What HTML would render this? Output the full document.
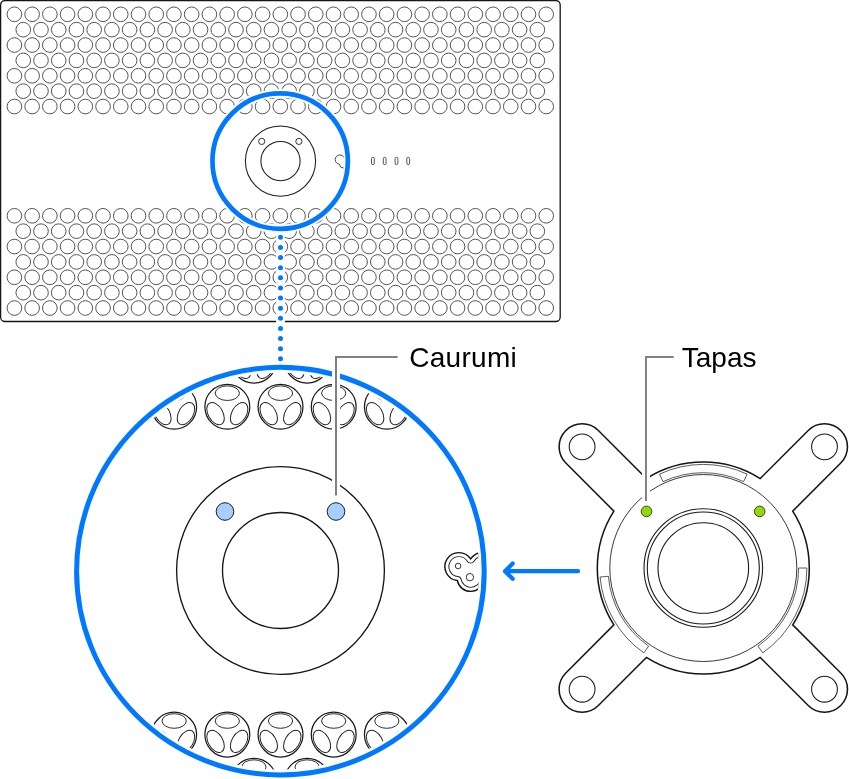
<!DOCTYPE html><html><head><meta charset="utf-8"><style>html,body{margin:0;padding:0;background:#fff;width:849px;height:779px;overflow:hidden}svg{display:block}text{font-family:"Liberation Sans",sans-serif}</style></head><body><svg width="849" height="779" viewBox="0 0 849 779"><defs><clipPath id="bclip"><circle cx="280.4" cy="571.15" r="198.5"/></clipPath><clipPath id="sclip"><circle cx="280.15" cy="161.1" r="63.95"/></clipPath><clipPath id="lkclip"><path d="M470.65 558.99 A14 14 0 1 0 457.29 580.51 A13.7 13.7 0 0 0 484.11 580.49 A14 14 0 1 0 470.65 558.99Z"/></clipPath></defs><rect x="0.6" y="0.5" width="559.6" height="321" rx="4.5" fill="#fff" stroke="#151515" stroke-width="1.3"/><g fill="none" stroke="#555" stroke-width="1"><circle cx="14.4" cy="14.3" r="7.32"/><circle cx="32.13" cy="14.3" r="7.32"/><circle cx="49.85" cy="14.3" r="7.32"/><circle cx="67.58" cy="14.3" r="7.32"/><circle cx="85.31" cy="14.3" r="7.32"/><circle cx="103.04" cy="14.3" r="7.32"/><circle cx="120.76" cy="14.3" r="7.32"/><circle cx="138.49" cy="14.3" r="7.32"/><circle cx="156.22" cy="14.3" r="7.32"/><circle cx="173.94" cy="14.3" r="7.32"/><circle cx="191.67" cy="14.3" r="7.32"/><circle cx="209.4" cy="14.3" r="7.32"/><circle cx="227.12" cy="14.3" r="7.32"/><circle cx="244.85" cy="14.3" r="7.32"/><circle cx="262.58" cy="14.3" r="7.32"/><circle cx="280.31" cy="14.3" r="7.32"/><circle cx="298.03" cy="14.3" r="7.32"/><circle cx="315.76" cy="14.3" r="7.32"/><circle cx="333.49" cy="14.3" r="7.32"/><circle cx="351.21" cy="14.3" r="7.32"/><circle cx="368.94" cy="14.3" r="7.32"/><circle cx="386.67" cy="14.3" r="7.32"/><circle cx="404.39" cy="14.3" r="7.32"/><circle cx="422.12" cy="14.3" r="7.32"/><circle cx="439.85" cy="14.3" r="7.32"/><circle cx="457.57" cy="14.3" r="7.32"/><circle cx="475.3" cy="14.3" r="7.32"/><circle cx="493.03" cy="14.3" r="7.32"/><circle cx="510.76" cy="14.3" r="7.32"/><circle cx="528.48" cy="14.3" r="7.32"/><circle cx="546.21" cy="14.3" r="7.32"/><circle cx="23.26" cy="29.67" r="7.32"/><circle cx="40.99" cy="29.67" r="7.32"/><circle cx="58.72" cy="29.67" r="7.32"/><circle cx="76.44" cy="29.67" r="7.32"/><circle cx="94.17" cy="29.67" r="7.32"/><circle cx="111.9" cy="29.67" r="7.32"/><circle cx="129.63" cy="29.67" r="7.32"/><circle cx="147.35" cy="29.67" r="7.32"/><circle cx="165.08" cy="29.67" r="7.32"/><circle cx="182.81" cy="29.67" r="7.32"/><circle cx="200.53" cy="29.67" r="7.32"/><circle cx="218.26" cy="29.67" r="7.32"/><circle cx="235.99" cy="29.67" r="7.32"/><circle cx="253.71" cy="29.67" r="7.32"/><circle cx="271.44" cy="29.67" r="7.32"/><circle cx="289.17" cy="29.67" r="7.32"/><circle cx="306.9" cy="29.67" r="7.32"/><circle cx="324.62" cy="29.67" r="7.32"/><circle cx="342.35" cy="29.67" r="7.32"/><circle cx="360.08" cy="29.67" r="7.32"/><circle cx="377.8" cy="29.67" r="7.32"/><circle cx="395.53" cy="29.67" r="7.32"/><circle cx="413.26" cy="29.67" r="7.32"/><circle cx="430.98" cy="29.67" r="7.32"/><circle cx="448.71" cy="29.67" r="7.32"/><circle cx="466.44" cy="29.67" r="7.32"/><circle cx="484.17" cy="29.67" r="7.32"/><circle cx="501.89" cy="29.67" r="7.32"/><circle cx="519.62" cy="29.67" r="7.32"/><circle cx="537.35" cy="29.67" r="7.32"/><circle cx="14.4" cy="45.04" r="7.32"/><circle cx="32.13" cy="45.04" r="7.32"/><circle cx="49.85" cy="45.04" r="7.32"/><circle cx="67.58" cy="45.04" r="7.32"/><circle cx="85.31" cy="45.04" r="7.32"/><circle cx="103.04" cy="45.04" r="7.32"/><circle cx="120.76" cy="45.04" r="7.32"/><circle cx="138.49" cy="45.04" r="7.32"/><circle cx="156.22" cy="45.04" r="7.32"/><circle cx="173.94" cy="45.04" r="7.32"/><circle cx="191.67" cy="45.04" r="7.32"/><circle cx="209.4" cy="45.04" r="7.32"/><circle cx="227.12" cy="45.04" r="7.32"/><circle cx="244.85" cy="45.04" r="7.32"/><circle cx="262.58" cy="45.04" r="7.32"/><circle cx="280.31" cy="45.04" r="7.32"/><circle cx="298.03" cy="45.04" r="7.32"/><circle cx="315.76" cy="45.04" r="7.32"/><circle cx="333.49" cy="45.04" r="7.32"/><circle cx="351.21" cy="45.04" r="7.32"/><circle cx="368.94" cy="45.04" r="7.32"/><circle cx="386.67" cy="45.04" r="7.32"/><circle cx="404.39" cy="45.04" r="7.32"/><circle cx="422.12" cy="45.04" r="7.32"/><circle cx="439.85" cy="45.04" r="7.32"/><circle cx="457.57" cy="45.04" r="7.32"/><circle cx="475.3" cy="45.04" r="7.32"/><circle cx="493.03" cy="45.04" r="7.32"/><circle cx="510.76" cy="45.04" r="7.32"/><circle cx="528.48" cy="45.04" r="7.32"/><circle cx="546.21" cy="45.04" r="7.32"/><circle cx="23.26" cy="60.41" r="7.32"/><circle cx="40.99" cy="60.41" r="7.32"/><circle cx="58.72" cy="60.41" r="7.32"/><circle cx="76.44" cy="60.41" r="7.32"/><circle cx="94.17" cy="60.41" r="7.32"/><circle cx="111.9" cy="60.41" r="7.32"/><circle cx="129.63" cy="60.41" r="7.32"/><circle cx="147.35" cy="60.41" r="7.32"/><circle cx="165.08" cy="60.41" r="7.32"/><circle cx="182.81" cy="60.41" r="7.32"/><circle cx="200.53" cy="60.41" r="7.32"/><circle cx="218.26" cy="60.41" r="7.32"/><circle cx="235.99" cy="60.41" r="7.32"/><circle cx="253.71" cy="60.41" r="7.32"/><circle cx="271.44" cy="60.41" r="7.32"/><circle cx="289.17" cy="60.41" r="7.32"/><circle cx="306.9" cy="60.41" r="7.32"/><circle cx="324.62" cy="60.41" r="7.32"/><circle cx="342.35" cy="60.41" r="7.32"/><circle cx="360.08" cy="60.41" r="7.32"/><circle cx="377.8" cy="60.41" r="7.32"/><circle cx="395.53" cy="60.41" r="7.32"/><circle cx="413.26" cy="60.41" r="7.32"/><circle cx="430.98" cy="60.41" r="7.32"/><circle cx="448.71" cy="60.41" r="7.32"/><circle cx="466.44" cy="60.41" r="7.32"/><circle cx="484.17" cy="60.41" r="7.32"/><circle cx="501.89" cy="60.41" r="7.32"/><circle cx="519.62" cy="60.41" r="7.32"/><circle cx="537.35" cy="60.41" r="7.32"/><circle cx="14.4" cy="75.78" r="7.32"/><circle cx="32.13" cy="75.78" r="7.32"/><circle cx="49.85" cy="75.78" r="7.32"/><circle cx="67.58" cy="75.78" r="7.32"/><circle cx="85.31" cy="75.78" r="7.32"/><circle cx="103.04" cy="75.78" r="7.32"/><circle cx="120.76" cy="75.78" r="7.32"/><circle cx="138.49" cy="75.78" r="7.32"/><circle cx="156.22" cy="75.78" r="7.32"/><circle cx="173.94" cy="75.78" r="7.32"/><circle cx="191.67" cy="75.78" r="7.32"/><circle cx="209.4" cy="75.78" r="7.32"/><circle cx="227.12" cy="75.78" r="7.32"/><circle cx="244.85" cy="75.78" r="7.32"/><circle cx="262.58" cy="75.78" r="7.32"/><circle cx="280.31" cy="75.78" r="7.32"/><circle cx="298.03" cy="75.78" r="7.32"/><circle cx="315.76" cy="75.78" r="7.32"/><circle cx="333.49" cy="75.78" r="7.32"/><circle cx="351.21" cy="75.78" r="7.32"/><circle cx="368.94" cy="75.78" r="7.32"/><circle cx="386.67" cy="75.78" r="7.32"/><circle cx="404.39" cy="75.78" r="7.32"/><circle cx="422.12" cy="75.78" r="7.32"/><circle cx="439.85" cy="75.78" r="7.32"/><circle cx="457.57" cy="75.78" r="7.32"/><circle cx="475.3" cy="75.78" r="7.32"/><circle cx="493.03" cy="75.78" r="7.32"/><circle cx="510.76" cy="75.78" r="7.32"/><circle cx="528.48" cy="75.78" r="7.32"/><circle cx="546.21" cy="75.78" r="7.32"/><circle cx="23.26" cy="91.15" r="7.32"/><circle cx="40.99" cy="91.15" r="7.32"/><circle cx="58.72" cy="91.15" r="7.32"/><circle cx="76.44" cy="91.15" r="7.32"/><circle cx="94.17" cy="91.15" r="7.32"/><circle cx="111.9" cy="91.15" r="7.32"/><circle cx="129.63" cy="91.15" r="7.32"/><circle cx="147.35" cy="91.15" r="7.32"/><circle cx="165.08" cy="91.15" r="7.32"/><circle cx="182.81" cy="91.15" r="7.32"/><circle cx="200.53" cy="91.15" r="7.32"/><circle cx="218.26" cy="91.15" r="7.32"/><circle cx="235.99" cy="91.15" r="7.32"/><circle cx="253.71" cy="91.15" r="7.32"/><circle cx="271.44" cy="91.15" r="7.32"/><circle cx="289.17" cy="91.15" r="7.32"/><circle cx="306.9" cy="91.15" r="7.32"/><circle cx="324.62" cy="91.15" r="7.32"/><circle cx="342.35" cy="91.15" r="7.32"/><circle cx="360.08" cy="91.15" r="7.32"/><circle cx="377.8" cy="91.15" r="7.32"/><circle cx="395.53" cy="91.15" r="7.32"/><circle cx="413.26" cy="91.15" r="7.32"/><circle cx="430.98" cy="91.15" r="7.32"/><circle cx="448.71" cy="91.15" r="7.32"/><circle cx="466.44" cy="91.15" r="7.32"/><circle cx="484.17" cy="91.15" r="7.32"/><circle cx="501.89" cy="91.15" r="7.32"/><circle cx="519.62" cy="91.15" r="7.32"/><circle cx="537.35" cy="91.15" r="7.32"/><circle cx="14.4" cy="106.52" r="7.32"/><circle cx="32.13" cy="106.52" r="7.32"/><circle cx="49.85" cy="106.52" r="7.32"/><circle cx="67.58" cy="106.52" r="7.32"/><circle cx="85.31" cy="106.52" r="7.32"/><circle cx="103.04" cy="106.52" r="7.32"/><circle cx="120.76" cy="106.52" r="7.32"/><circle cx="138.49" cy="106.52" r="7.32"/><circle cx="156.22" cy="106.52" r="7.32"/><circle cx="173.94" cy="106.52" r="7.32"/><circle cx="191.67" cy="106.52" r="7.32"/><circle cx="209.4" cy="106.52" r="7.32"/><circle cx="227.12" cy="106.52" r="7.32"/><circle cx="244.85" cy="106.52" r="7.32"/><circle cx="262.58" cy="106.52" r="7.32"/><circle cx="280.31" cy="106.52" r="7.32"/><circle cx="298.03" cy="106.52" r="7.32"/><circle cx="315.76" cy="106.52" r="7.32"/><circle cx="333.49" cy="106.52" r="7.32"/><circle cx="351.21" cy="106.52" r="7.32"/><circle cx="368.94" cy="106.52" r="7.32"/><circle cx="386.67" cy="106.52" r="7.32"/><circle cx="404.39" cy="106.52" r="7.32"/><circle cx="422.12" cy="106.52" r="7.32"/><circle cx="439.85" cy="106.52" r="7.32"/><circle cx="457.57" cy="106.52" r="7.32"/><circle cx="475.3" cy="106.52" r="7.32"/><circle cx="493.03" cy="106.52" r="7.32"/><circle cx="510.76" cy="106.52" r="7.32"/><circle cx="528.48" cy="106.52" r="7.32"/><circle cx="546.21" cy="106.52" r="7.32"/><circle cx="14.4" cy="215.8" r="7.32"/><circle cx="32.13" cy="215.8" r="7.32"/><circle cx="49.85" cy="215.8" r="7.32"/><circle cx="67.58" cy="215.8" r="7.32"/><circle cx="85.31" cy="215.8" r="7.32"/><circle cx="103.04" cy="215.8" r="7.32"/><circle cx="120.76" cy="215.8" r="7.32"/><circle cx="138.49" cy="215.8" r="7.32"/><circle cx="156.22" cy="215.8" r="7.32"/><circle cx="173.94" cy="215.8" r="7.32"/><circle cx="191.67" cy="215.8" r="7.32"/><circle cx="209.4" cy="215.8" r="7.32"/><circle cx="227.12" cy="215.8" r="7.32"/><circle cx="244.85" cy="215.8" r="7.32"/><circle cx="262.58" cy="215.8" r="7.32"/><circle cx="280.31" cy="215.8" r="7.32"/><circle cx="298.03" cy="215.8" r="7.32"/><circle cx="315.76" cy="215.8" r="7.32"/><circle cx="333.49" cy="215.8" r="7.32"/><circle cx="351.21" cy="215.8" r="7.32"/><circle cx="368.94" cy="215.8" r="7.32"/><circle cx="386.67" cy="215.8" r="7.32"/><circle cx="404.39" cy="215.8" r="7.32"/><circle cx="422.12" cy="215.8" r="7.32"/><circle cx="439.85" cy="215.8" r="7.32"/><circle cx="457.57" cy="215.8" r="7.32"/><circle cx="475.3" cy="215.8" r="7.32"/><circle cx="493.03" cy="215.8" r="7.32"/><circle cx="510.76" cy="215.8" r="7.32"/><circle cx="528.48" cy="215.8" r="7.32"/><circle cx="546.21" cy="215.8" r="7.32"/><circle cx="23.26" cy="231.17" r="7.32"/><circle cx="40.99" cy="231.17" r="7.32"/><circle cx="58.72" cy="231.17" r="7.32"/><circle cx="76.44" cy="231.17" r="7.32"/><circle cx="94.17" cy="231.17" r="7.32"/><circle cx="111.9" cy="231.17" r="7.32"/><circle cx="129.63" cy="231.17" r="7.32"/><circle cx="147.35" cy="231.17" r="7.32"/><circle cx="165.08" cy="231.17" r="7.32"/><circle cx="182.81" cy="231.17" r="7.32"/><circle cx="200.53" cy="231.17" r="7.32"/><circle cx="218.26" cy="231.17" r="7.32"/><circle cx="235.99" cy="231.17" r="7.32"/><circle cx="253.71" cy="231.17" r="7.32"/><circle cx="271.44" cy="231.17" r="7.32"/><circle cx="289.17" cy="231.17" r="7.32"/><circle cx="306.9" cy="231.17" r="7.32"/><circle cx="324.62" cy="231.17" r="7.32"/><circle cx="342.35" cy="231.17" r="7.32"/><circle cx="360.08" cy="231.17" r="7.32"/><circle cx="377.8" cy="231.17" r="7.32"/><circle cx="395.53" cy="231.17" r="7.32"/><circle cx="413.26" cy="231.17" r="7.32"/><circle cx="430.98" cy="231.17" r="7.32"/><circle cx="448.71" cy="231.17" r="7.32"/><circle cx="466.44" cy="231.17" r="7.32"/><circle cx="484.17" cy="231.17" r="7.32"/><circle cx="501.89" cy="231.17" r="7.32"/><circle cx="519.62" cy="231.17" r="7.32"/><circle cx="537.35" cy="231.17" r="7.32"/><circle cx="14.4" cy="246.54" r="7.32"/><circle cx="32.13" cy="246.54" r="7.32"/><circle cx="49.85" cy="246.54" r="7.32"/><circle cx="67.58" cy="246.54" r="7.32"/><circle cx="85.31" cy="246.54" r="7.32"/><circle cx="103.04" cy="246.54" r="7.32"/><circle cx="120.76" cy="246.54" r="7.32"/><circle cx="138.49" cy="246.54" r="7.32"/><circle cx="156.22" cy="246.54" r="7.32"/><circle cx="173.94" cy="246.54" r="7.32"/><circle cx="191.67" cy="246.54" r="7.32"/><circle cx="209.4" cy="246.54" r="7.32"/><circle cx="227.12" cy="246.54" r="7.32"/><circle cx="244.85" cy="246.54" r="7.32"/><circle cx="262.58" cy="246.54" r="7.32"/><circle cx="280.31" cy="246.54" r="7.32"/><circle cx="298.03" cy="246.54" r="7.32"/><circle cx="315.76" cy="246.54" r="7.32"/><circle cx="333.49" cy="246.54" r="7.32"/><circle cx="351.21" cy="246.54" r="7.32"/><circle cx="368.94" cy="246.54" r="7.32"/><circle cx="386.67" cy="246.54" r="7.32"/><circle cx="404.39" cy="246.54" r="7.32"/><circle cx="422.12" cy="246.54" r="7.32"/><circle cx="439.85" cy="246.54" r="7.32"/><circle cx="457.57" cy="246.54" r="7.32"/><circle cx="475.3" cy="246.54" r="7.32"/><circle cx="493.03" cy="246.54" r="7.32"/><circle cx="510.76" cy="246.54" r="7.32"/><circle cx="528.48" cy="246.54" r="7.32"/><circle cx="546.21" cy="246.54" r="7.32"/><circle cx="23.26" cy="261.91" r="7.32"/><circle cx="40.99" cy="261.91" r="7.32"/><circle cx="58.72" cy="261.91" r="7.32"/><circle cx="76.44" cy="261.91" r="7.32"/><circle cx="94.17" cy="261.91" r="7.32"/><circle cx="111.9" cy="261.91" r="7.32"/><circle cx="129.63" cy="261.91" r="7.32"/><circle cx="147.35" cy="261.91" r="7.32"/><circle cx="165.08" cy="261.91" r="7.32"/><circle cx="182.81" cy="261.91" r="7.32"/><circle cx="200.53" cy="261.91" r="7.32"/><circle cx="218.26" cy="261.91" r="7.32"/><circle cx="235.99" cy="261.91" r="7.32"/><circle cx="253.71" cy="261.91" r="7.32"/><circle cx="271.44" cy="261.91" r="7.32"/><circle cx="289.17" cy="261.91" r="7.32"/><circle cx="306.9" cy="261.91" r="7.32"/><circle cx="324.62" cy="261.91" r="7.32"/><circle cx="342.35" cy="261.91" r="7.32"/><circle cx="360.08" cy="261.91" r="7.32"/><circle cx="377.8" cy="261.91" r="7.32"/><circle cx="395.53" cy="261.91" r="7.32"/><circle cx="413.26" cy="261.91" r="7.32"/><circle cx="430.98" cy="261.91" r="7.32"/><circle cx="448.71" cy="261.91" r="7.32"/><circle cx="466.44" cy="261.91" r="7.32"/><circle cx="484.17" cy="261.91" r="7.32"/><circle cx="501.89" cy="261.91" r="7.32"/><circle cx="519.62" cy="261.91" r="7.32"/><circle cx="537.35" cy="261.91" r="7.32"/><circle cx="14.4" cy="277.28" r="7.32"/><circle cx="32.13" cy="277.28" r="7.32"/><circle cx="49.85" cy="277.28" r="7.32"/><circle cx="67.58" cy="277.28" r="7.32"/><circle cx="85.31" cy="277.28" r="7.32"/><circle cx="103.04" cy="277.28" r="7.32"/><circle cx="120.76" cy="277.28" r="7.32"/><circle cx="138.49" cy="277.28" r="7.32"/><circle cx="156.22" cy="277.28" r="7.32"/><circle cx="173.94" cy="277.28" r="7.32"/><circle cx="191.67" cy="277.28" r="7.32"/><circle cx="209.4" cy="277.28" r="7.32"/><circle cx="227.12" cy="277.28" r="7.32"/><circle cx="244.85" cy="277.28" r="7.32"/><circle cx="262.58" cy="277.28" r="7.32"/><circle cx="280.31" cy="277.28" r="7.32"/><circle cx="298.03" cy="277.28" r="7.32"/><circle cx="315.76" cy="277.28" r="7.32"/><circle cx="333.49" cy="277.28" r="7.32"/><circle cx="351.21" cy="277.28" r="7.32"/><circle cx="368.94" cy="277.28" r="7.32"/><circle cx="386.67" cy="277.28" r="7.32"/><circle cx="404.39" cy="277.28" r="7.32"/><circle cx="422.12" cy="277.28" r="7.32"/><circle cx="439.85" cy="277.28" r="7.32"/><circle cx="457.57" cy="277.28" r="7.32"/><circle cx="475.3" cy="277.28" r="7.32"/><circle cx="493.03" cy="277.28" r="7.32"/><circle cx="510.76" cy="277.28" r="7.32"/><circle cx="528.48" cy="277.28" r="7.32"/><circle cx="546.21" cy="277.28" r="7.32"/><circle cx="23.26" cy="292.65" r="7.32"/><circle cx="40.99" cy="292.65" r="7.32"/><circle cx="58.72" cy="292.65" r="7.32"/><circle cx="76.44" cy="292.65" r="7.32"/><circle cx="94.17" cy="292.65" r="7.32"/><circle cx="111.9" cy="292.65" r="7.32"/><circle cx="129.63" cy="292.65" r="7.32"/><circle cx="147.35" cy="292.65" r="7.32"/><circle cx="165.08" cy="292.65" r="7.32"/><circle cx="182.81" cy="292.65" r="7.32"/><circle cx="200.53" cy="292.65" r="7.32"/><circle cx="218.26" cy="292.65" r="7.32"/><circle cx="235.99" cy="292.65" r="7.32"/><circle cx="253.71" cy="292.65" r="7.32"/><circle cx="271.44" cy="292.65" r="7.32"/><circle cx="289.17" cy="292.65" r="7.32"/><circle cx="306.9" cy="292.65" r="7.32"/><circle cx="324.62" cy="292.65" r="7.32"/><circle cx="342.35" cy="292.65" r="7.32"/><circle cx="360.08" cy="292.65" r="7.32"/><circle cx="377.8" cy="292.65" r="7.32"/><circle cx="395.53" cy="292.65" r="7.32"/><circle cx="413.26" cy="292.65" r="7.32"/><circle cx="430.98" cy="292.65" r="7.32"/><circle cx="448.71" cy="292.65" r="7.32"/><circle cx="466.44" cy="292.65" r="7.32"/><circle cx="484.17" cy="292.65" r="7.32"/><circle cx="501.89" cy="292.65" r="7.32"/><circle cx="519.62" cy="292.65" r="7.32"/><circle cx="537.35" cy="292.65" r="7.32"/><circle cx="14.4" cy="308.02" r="7.32"/><circle cx="32.13" cy="308.02" r="7.32"/><circle cx="49.85" cy="308.02" r="7.32"/><circle cx="67.58" cy="308.02" r="7.32"/><circle cx="85.31" cy="308.02" r="7.32"/><circle cx="103.04" cy="308.02" r="7.32"/><circle cx="120.76" cy="308.02" r="7.32"/><circle cx="138.49" cy="308.02" r="7.32"/><circle cx="156.22" cy="308.02" r="7.32"/><circle cx="173.94" cy="308.02" r="7.32"/><circle cx="191.67" cy="308.02" r="7.32"/><circle cx="209.4" cy="308.02" r="7.32"/><circle cx="227.12" cy="308.02" r="7.32"/><circle cx="244.85" cy="308.02" r="7.32"/><circle cx="262.58" cy="308.02" r="7.32"/><circle cx="280.31" cy="308.02" r="7.32"/><circle cx="298.03" cy="308.02" r="7.32"/><circle cx="315.76" cy="308.02" r="7.32"/><circle cx="333.49" cy="308.02" r="7.32"/><circle cx="351.21" cy="308.02" r="7.32"/><circle cx="368.94" cy="308.02" r="7.32"/><circle cx="386.67" cy="308.02" r="7.32"/><circle cx="404.39" cy="308.02" r="7.32"/><circle cx="422.12" cy="308.02" r="7.32"/><circle cx="439.85" cy="308.02" r="7.32"/><circle cx="457.57" cy="308.02" r="7.32"/><circle cx="475.3" cy="308.02" r="7.32"/><circle cx="493.03" cy="308.02" r="7.32"/><circle cx="510.76" cy="308.02" r="7.32"/><circle cx="528.48" cy="308.02" r="7.32"/><circle cx="546.21" cy="308.02" r="7.32"/></g><path d="M280.5 228V366" stroke="#fff" stroke-width="8.7"/><circle cx="280.15" cy="161.1" r="67.7" fill="none" stroke="#fff" stroke-width="8.7"/><g fill="none" stroke="#1c1c1c" stroke-width="1.05"><circle cx="280.5" cy="161.1" r="35.1"/><circle cx="280.5" cy="161.1" r="19.6"/><circle cx="261.7" cy="141.4" r="3.1" stroke-width="0.9"/><circle cx="298.9" cy="141.4" r="3.1" stroke-width="0.9"/></g><path clip-path="url(#sclip)" d="M343.75 157.06 A4.67 4.67 0 1 0 339.32 164.24 A4.57 4.57 0 0 0 348.35 164.22 A4.67 4.67 0 1 0 343.75 157.06Z" fill="none" stroke="#333" stroke-width="0.9"/><circle cx="280.15" cy="161.1" r="67.7" fill="none" stroke="#0079ff" stroke-width="4.7"/><g fill="none" stroke="#444" stroke-width="0.9"><rect x="371.5" y="157.3" width="2.8" height="7.3" rx="1.4"/><rect x="383.3" y="157.3" width="2.8" height="7.3" rx="1.4"/><rect x="395.1" y="157.3" width="2.8" height="7.3" rx="1.4"/><rect x="406.8" y="157.3" width="2.8" height="7.3" rx="1.4"/></g><g fill="#0079ff"><circle cx="280.5" cy="237.3" r="2.5"/><circle cx="280.5" cy="247.43" r="2.5"/><circle cx="280.5" cy="257.56" r="2.5"/><circle cx="280.5" cy="267.69" r="2.5"/><circle cx="280.5" cy="277.82" r="2.5"/><circle cx="280.5" cy="287.95" r="2.5"/><circle cx="280.5" cy="298.08" r="2.5"/><circle cx="280.5" cy="308.21" r="2.5"/><circle cx="280.5" cy="318.34" r="2.5"/><circle cx="280.5" cy="328.47" r="2.5"/><circle cx="280.5" cy="338.6" r="2.5"/><circle cx="280.5" cy="348.73" r="2.5"/><circle cx="280.5" cy="358.86" r="2.5"/></g><g clip-path="url(#bclip)"><g transform="translate(41.2 360.65)"><circle r="22.45" fill="#fff" stroke="#1a1a1a" stroke-width="1.25"/><g fill="none" stroke="#222" stroke-width="0.95"><ellipse cy="-13.6" rx="12.1" ry="7.3"/><ellipse cy="-13.6" rx="12.1" ry="7.3" transform="rotate(120)"/><ellipse cy="-13.6" rx="12.1" ry="7.3" transform="rotate(240)"/></g></g><g transform="translate(94.38 360.65)"><circle r="22.45" fill="#fff" stroke="#1a1a1a" stroke-width="1.25"/><g fill="none" stroke="#222" stroke-width="0.95"><ellipse cy="-13.6" rx="12.1" ry="7.3"/><ellipse cy="-13.6" rx="12.1" ry="7.3" transform="rotate(120)"/><ellipse cy="-13.6" rx="12.1" ry="7.3" transform="rotate(240)"/></g></g><g transform="translate(147.56 360.65)"><circle r="22.45" fill="#fff" stroke="#1a1a1a" stroke-width="1.25"/><g fill="none" stroke="#222" stroke-width="0.95"><ellipse cy="-13.6" rx="12.1" ry="7.3"/><ellipse cy="-13.6" rx="12.1" ry="7.3" transform="rotate(120)"/><ellipse cy="-13.6" rx="12.1" ry="7.3" transform="rotate(240)"/></g></g><g transform="translate(200.74 360.65)"><circle r="22.45" fill="#fff" stroke="#1a1a1a" stroke-width="1.25"/><g fill="none" stroke="#222" stroke-width="0.95"><ellipse cy="-13.6" rx="12.1" ry="7.3"/><ellipse cy="-13.6" rx="12.1" ry="7.3" transform="rotate(120)"/><ellipse cy="-13.6" rx="12.1" ry="7.3" transform="rotate(240)"/></g></g><g transform="translate(253.92 360.65)"><circle r="22.45" fill="#fff" stroke="#1a1a1a" stroke-width="1.25"/><g fill="none" stroke="#222" stroke-width="0.95"><ellipse cy="-13.6" rx="12.1" ry="7.3"/><ellipse cy="-13.6" rx="12.1" ry="7.3" transform="rotate(120)"/><ellipse cy="-13.6" rx="12.1" ry="7.3" transform="rotate(240)"/></g></g><g transform="translate(307.11 360.65)"><circle r="22.45" fill="#fff" stroke="#1a1a1a" stroke-width="1.25"/><g fill="none" stroke="#222" stroke-width="0.95"><ellipse cy="-13.6" rx="12.1" ry="7.3"/><ellipse cy="-13.6" rx="12.1" ry="7.3" transform="rotate(120)"/><ellipse cy="-13.6" rx="12.1" ry="7.3" transform="rotate(240)"/></g></g><g transform="translate(360.29 360.65)"><circle r="22.45" fill="#fff" stroke="#1a1a1a" stroke-width="1.25"/><g fill="none" stroke="#222" stroke-width="0.95"><ellipse cy="-13.6" rx="12.1" ry="7.3"/><ellipse cy="-13.6" rx="12.1" ry="7.3" transform="rotate(120)"/><ellipse cy="-13.6" rx="12.1" ry="7.3" transform="rotate(240)"/></g></g><g transform="translate(413.47 360.65)"><circle r="22.45" fill="#fff" stroke="#1a1a1a" stroke-width="1.25"/><g fill="none" stroke="#222" stroke-width="0.95"><ellipse cy="-13.6" rx="12.1" ry="7.3"/><ellipse cy="-13.6" rx="12.1" ry="7.3" transform="rotate(120)"/><ellipse cy="-13.6" rx="12.1" ry="7.3" transform="rotate(240)"/></g></g><g transform="translate(466.65 360.65)"><circle r="22.45" fill="#fff" stroke="#1a1a1a" stroke-width="1.25"/><g fill="none" stroke="#222" stroke-width="0.95"><ellipse cy="-13.6" rx="12.1" ry="7.3"/><ellipse cy="-13.6" rx="12.1" ry="7.3" transform="rotate(120)"/><ellipse cy="-13.6" rx="12.1" ry="7.3" transform="rotate(240)"/></g></g><g transform="translate(519.83 360.65)"><circle r="22.45" fill="#fff" stroke="#1a1a1a" stroke-width="1.25"/><g fill="none" stroke="#222" stroke-width="0.95"><ellipse cy="-13.6" rx="12.1" ry="7.3"/><ellipse cy="-13.6" rx="12.1" ry="7.3" transform="rotate(120)"/><ellipse cy="-13.6" rx="12.1" ry="7.3" transform="rotate(240)"/></g></g><g transform="translate(67.79 406.76)"><circle r="22.45" fill="#fff" stroke="#1a1a1a" stroke-width="1.25"/><g fill="none" stroke="#222" stroke-width="0.95"><ellipse cy="-13.6" rx="12.1" ry="7.3"/><ellipse cy="-13.6" rx="12.1" ry="7.3" transform="rotate(120)"/><ellipse cy="-13.6" rx="12.1" ry="7.3" transform="rotate(240)"/></g></g><g transform="translate(120.97 406.76)"><circle r="22.45" fill="#fff" stroke="#1a1a1a" stroke-width="1.25"/><g fill="none" stroke="#222" stroke-width="0.95"><ellipse cy="-13.6" rx="12.1" ry="7.3"/><ellipse cy="-13.6" rx="12.1" ry="7.3" transform="rotate(120)"/><ellipse cy="-13.6" rx="12.1" ry="7.3" transform="rotate(240)"/></g></g><g transform="translate(174.15 406.76)"><circle r="22.45" fill="#fff" stroke="#1a1a1a" stroke-width="1.25"/><g fill="none" stroke="#222" stroke-width="0.95"><ellipse cy="-13.6" rx="12.1" ry="7.3"/><ellipse cy="-13.6" rx="12.1" ry="7.3" transform="rotate(120)"/><ellipse cy="-13.6" rx="12.1" ry="7.3" transform="rotate(240)"/></g></g><g transform="translate(227.33 406.76)"><circle r="22.45" fill="#fff" stroke="#1a1a1a" stroke-width="1.25"/><g fill="none" stroke="#222" stroke-width="0.95"><ellipse cy="-13.6" rx="12.1" ry="7.3"/><ellipse cy="-13.6" rx="12.1" ry="7.3" transform="rotate(120)"/><ellipse cy="-13.6" rx="12.1" ry="7.3" transform="rotate(240)"/></g></g><g transform="translate(280.51 406.76)"><circle r="22.45" fill="#fff" stroke="#1a1a1a" stroke-width="1.25"/><g fill="none" stroke="#222" stroke-width="0.95"><ellipse cy="-13.6" rx="12.1" ry="7.3"/><ellipse cy="-13.6" rx="12.1" ry="7.3" transform="rotate(120)"/><ellipse cy="-13.6" rx="12.1" ry="7.3" transform="rotate(240)"/></g></g><g transform="translate(333.7 406.76)"><circle r="22.45" fill="#fff" stroke="#1a1a1a" stroke-width="1.25"/><g fill="none" stroke="#222" stroke-width="0.95"><ellipse cy="-13.6" rx="12.1" ry="7.3"/><ellipse cy="-13.6" rx="12.1" ry="7.3" transform="rotate(120)"/><ellipse cy="-13.6" rx="12.1" ry="7.3" transform="rotate(240)"/></g></g><g transform="translate(386.88 406.76)"><circle r="22.45" fill="#fff" stroke="#1a1a1a" stroke-width="1.25"/><g fill="none" stroke="#222" stroke-width="0.95"><ellipse cy="-13.6" rx="12.1" ry="7.3"/><ellipse cy="-13.6" rx="12.1" ry="7.3" transform="rotate(120)"/><ellipse cy="-13.6" rx="12.1" ry="7.3" transform="rotate(240)"/></g></g><g transform="translate(440.06 406.76)"><circle r="22.45" fill="#fff" stroke="#1a1a1a" stroke-width="1.25"/><g fill="none" stroke="#222" stroke-width="0.95"><ellipse cy="-13.6" rx="12.1" ry="7.3"/><ellipse cy="-13.6" rx="12.1" ry="7.3" transform="rotate(120)"/><ellipse cy="-13.6" rx="12.1" ry="7.3" transform="rotate(240)"/></g></g><g transform="translate(493.24 406.76)"><circle r="22.45" fill="#fff" stroke="#1a1a1a" stroke-width="1.25"/><g fill="none" stroke="#222" stroke-width="0.95"><ellipse cy="-13.6" rx="12.1" ry="7.3"/><ellipse cy="-13.6" rx="12.1" ry="7.3" transform="rotate(120)"/><ellipse cy="-13.6" rx="12.1" ry="7.3" transform="rotate(240)"/></g></g><g transform="translate(67.79 734.6)"><circle r="22.45" fill="#fff" stroke="#1a1a1a" stroke-width="1.25"/><g fill="none" stroke="#222" stroke-width="0.95"><ellipse cy="-13.6" rx="12.1" ry="7.3"/><ellipse cy="-13.6" rx="12.1" ry="7.3" transform="rotate(120)"/><ellipse cy="-13.6" rx="12.1" ry="7.3" transform="rotate(240)"/></g></g><g transform="translate(120.97 734.6)"><circle r="22.45" fill="#fff" stroke="#1a1a1a" stroke-width="1.25"/><g fill="none" stroke="#222" stroke-width="0.95"><ellipse cy="-13.6" rx="12.1" ry="7.3"/><ellipse cy="-13.6" rx="12.1" ry="7.3" transform="rotate(120)"/><ellipse cy="-13.6" rx="12.1" ry="7.3" transform="rotate(240)"/></g></g><g transform="translate(174.15 734.6)"><circle r="22.45" fill="#fff" stroke="#1a1a1a" stroke-width="1.25"/><g fill="none" stroke="#222" stroke-width="0.95"><ellipse cy="-13.6" rx="12.1" ry="7.3"/><ellipse cy="-13.6" rx="12.1" ry="7.3" transform="rotate(120)"/><ellipse cy="-13.6" rx="12.1" ry="7.3" transform="rotate(240)"/></g></g><g transform="translate(227.33 734.6)"><circle r="22.45" fill="#fff" stroke="#1a1a1a" stroke-width="1.25"/><g fill="none" stroke="#222" stroke-width="0.95"><ellipse cy="-13.6" rx="12.1" ry="7.3"/><ellipse cy="-13.6" rx="12.1" ry="7.3" transform="rotate(120)"/><ellipse cy="-13.6" rx="12.1" ry="7.3" transform="rotate(240)"/></g></g><g transform="translate(280.51 734.6)"><circle r="22.45" fill="#fff" stroke="#1a1a1a" stroke-width="1.25"/><g fill="none" stroke="#222" stroke-width="0.95"><ellipse cy="-13.6" rx="12.1" ry="7.3"/><ellipse cy="-13.6" rx="12.1" ry="7.3" transform="rotate(120)"/><ellipse cy="-13.6" rx="12.1" ry="7.3" transform="rotate(240)"/></g></g><g transform="translate(333.7 734.6)"><circle r="22.45" fill="#fff" stroke="#1a1a1a" stroke-width="1.25"/><g fill="none" stroke="#222" stroke-width="0.95"><ellipse cy="-13.6" rx="12.1" ry="7.3"/><ellipse cy="-13.6" rx="12.1" ry="7.3" transform="rotate(120)"/><ellipse cy="-13.6" rx="12.1" ry="7.3" transform="rotate(240)"/></g></g><g transform="translate(386.88 734.6)"><circle r="22.45" fill="#fff" stroke="#1a1a1a" stroke-width="1.25"/><g fill="none" stroke="#222" stroke-width="0.95"><ellipse cy="-13.6" rx="12.1" ry="7.3"/><ellipse cy="-13.6" rx="12.1" ry="7.3" transform="rotate(120)"/><ellipse cy="-13.6" rx="12.1" ry="7.3" transform="rotate(240)"/></g></g><g transform="translate(440.06 734.6)"><circle r="22.45" fill="#fff" stroke="#1a1a1a" stroke-width="1.25"/><g fill="none" stroke="#222" stroke-width="0.95"><ellipse cy="-13.6" rx="12.1" ry="7.3"/><ellipse cy="-13.6" rx="12.1" ry="7.3" transform="rotate(120)"/><ellipse cy="-13.6" rx="12.1" ry="7.3" transform="rotate(240)"/></g></g><g transform="translate(493.24 734.6)"><circle r="22.45" fill="#fff" stroke="#1a1a1a" stroke-width="1.25"/><g fill="none" stroke="#222" stroke-width="0.95"><ellipse cy="-13.6" rx="12.1" ry="7.3"/><ellipse cy="-13.6" rx="12.1" ry="7.3" transform="rotate(120)"/><ellipse cy="-13.6" rx="12.1" ry="7.3" transform="rotate(240)"/></g></g><g transform="translate(41.2 780.71)"><circle r="22.45" fill="#fff" stroke="#1a1a1a" stroke-width="1.25"/><g fill="none" stroke="#222" stroke-width="0.95"><ellipse cy="-13.6" rx="12.1" ry="7.3"/><ellipse cy="-13.6" rx="12.1" ry="7.3" transform="rotate(120)"/><ellipse cy="-13.6" rx="12.1" ry="7.3" transform="rotate(240)"/></g></g><g transform="translate(94.38 780.71)"><circle r="22.45" fill="#fff" stroke="#1a1a1a" stroke-width="1.25"/><g fill="none" stroke="#222" stroke-width="0.95"><ellipse cy="-13.6" rx="12.1" ry="7.3"/><ellipse cy="-13.6" rx="12.1" ry="7.3" transform="rotate(120)"/><ellipse cy="-13.6" rx="12.1" ry="7.3" transform="rotate(240)"/></g></g><g transform="translate(147.56 780.71)"><circle r="22.45" fill="#fff" stroke="#1a1a1a" stroke-width="1.25"/><g fill="none" stroke="#222" stroke-width="0.95"><ellipse cy="-13.6" rx="12.1" ry="7.3"/><ellipse cy="-13.6" rx="12.1" ry="7.3" transform="rotate(120)"/><ellipse cy="-13.6" rx="12.1" ry="7.3" transform="rotate(240)"/></g></g><g transform="translate(200.74 780.71)"><circle r="22.45" fill="#fff" stroke="#1a1a1a" stroke-width="1.25"/><g fill="none" stroke="#222" stroke-width="0.95"><ellipse cy="-13.6" rx="12.1" ry="7.3"/><ellipse cy="-13.6" rx="12.1" ry="7.3" transform="rotate(120)"/><ellipse cy="-13.6" rx="12.1" ry="7.3" transform="rotate(240)"/></g></g><g transform="translate(253.92 780.71)"><circle r="22.45" fill="#fff" stroke="#1a1a1a" stroke-width="1.25"/><g fill="none" stroke="#222" stroke-width="0.95"><ellipse cy="-13.6" rx="12.1" ry="7.3"/><ellipse cy="-13.6" rx="12.1" ry="7.3" transform="rotate(120)"/><ellipse cy="-13.6" rx="12.1" ry="7.3" transform="rotate(240)"/></g></g><g transform="translate(307.11 780.71)"><circle r="22.45" fill="#fff" stroke="#1a1a1a" stroke-width="1.25"/><g fill="none" stroke="#222" stroke-width="0.95"><ellipse cy="-13.6" rx="12.1" ry="7.3"/><ellipse cy="-13.6" rx="12.1" ry="7.3" transform="rotate(120)"/><ellipse cy="-13.6" rx="12.1" ry="7.3" transform="rotate(240)"/></g></g><g transform="translate(360.29 780.71)"><circle r="22.45" fill="#fff" stroke="#1a1a1a" stroke-width="1.25"/><g fill="none" stroke="#222" stroke-width="0.95"><ellipse cy="-13.6" rx="12.1" ry="7.3"/><ellipse cy="-13.6" rx="12.1" ry="7.3" transform="rotate(120)"/><ellipse cy="-13.6" rx="12.1" ry="7.3" transform="rotate(240)"/></g></g><g transform="translate(413.47 780.71)"><circle r="22.45" fill="#fff" stroke="#1a1a1a" stroke-width="1.25"/><g fill="none" stroke="#222" stroke-width="0.95"><ellipse cy="-13.6" rx="12.1" ry="7.3"/><ellipse cy="-13.6" rx="12.1" ry="7.3" transform="rotate(120)"/><ellipse cy="-13.6" rx="12.1" ry="7.3" transform="rotate(240)"/></g></g><g transform="translate(466.65 780.71)"><circle r="22.45" fill="#fff" stroke="#1a1a1a" stroke-width="1.25"/><g fill="none" stroke="#222" stroke-width="0.95"><ellipse cy="-13.6" rx="12.1" ry="7.3"/><ellipse cy="-13.6" rx="12.1" ry="7.3" transform="rotate(120)"/><ellipse cy="-13.6" rx="12.1" ry="7.3" transform="rotate(240)"/></g></g><g transform="translate(519.83 780.71)"><circle r="22.45" fill="#fff" stroke="#1a1a1a" stroke-width="1.25"/><g fill="none" stroke="#222" stroke-width="0.95"><ellipse cy="-13.6" rx="12.1" ry="7.3"/><ellipse cy="-13.6" rx="12.1" ry="7.3" transform="rotate(120)"/><ellipse cy="-13.6" rx="12.1" ry="7.3" transform="rotate(240)"/></g></g><g fill="none" stroke="#161616" stroke-width="1.35"><circle cx="280.5" cy="570.5" r="103.9"/><circle cx="280.5" cy="570.5" r="58"/></g><circle cx="225" cy="511.5" r="8.8" fill="#a6cfff" stroke="#1a1a1a" stroke-width="1"/><circle cx="336" cy="511.5" r="8.8" fill="#a6cfff" stroke="#1a1a1a" stroke-width="1"/><path d="M470.65 558.99 A14 14 0 1 0 457.29 580.51 A13.7 13.7 0 0 0 484.11 580.49 A14 14 0 1 0 470.65 558.99Z" fill="#fff"/><g clip-path="url(#lkclip)" fill="none" stroke-linejoin="round"><path d="M470.65 558.99 A14 14 0 1 0 457.29 580.51 A13.7 13.7 0 0 0 484.11 580.49 A14 14 0 1 0 470.65 558.99Z" stroke="#222" stroke-width="8.95"/><path d="M470.65 558.99 A14 14 0 1 0 457.29 580.51 A13.7 13.7 0 0 0 484.11 580.49 A14 14 0 1 0 470.65 558.99Z" stroke="#fff" stroke-width="7.05"/></g><path d="M470.65 558.99 A14 14 0 1 0 457.29 580.51 A13.7 13.7 0 0 0 484.11 580.49 A14 14 0 1 0 470.65 558.99Z" fill="none" stroke="#151515" stroke-width="1.4"/><circle cx="458.1" cy="566" r="2.8" fill="none" stroke="#222" stroke-width="0.9"/><circle cx="469.9" cy="577.2" r="3.7" fill="none" stroke="#222" stroke-width="0.9"/></g><circle cx="280.4" cy="571.15" r="203.8" fill="none" stroke="#0079ff" stroke-width="5"/><path d="M336 495.6V357H397.6" fill="none" stroke="#fff" stroke-width="8"/><path d="M336 495.6V357H397.6" fill="none" stroke="#808080" stroke-width="2"/><path d="M613.87 511.1L565.84 463.07A23 23 0 0 1 598.37 430.54L646.4 478.57A106 106 0 0 1 760.2 478.57L808.23 430.54A23 23 0 0 1 840.76 463.07L792.73 511.1A106 106 0 0 1 792.73 624.9L840.76 672.93A23 23 0 0 1 808.23 705.46L760.2 657.43A106 106 0 0 1 646.4 657.43L598.37 705.46A23 23 0 0 1 565.84 672.93L613.87 624.9A106 106 0 0 1 613.87 511.1Z" fill="#fff" stroke="#151515" stroke-width="1.55" stroke-linejoin="miter"/><circle cx="582.1" cy="446.8" r="12.9" fill="none" stroke="#1a1a1a" stroke-width="1.05"/><circle cx="824.5" cy="446.8" r="12.9" fill="none" stroke="#1a1a1a" stroke-width="1.05"/><circle cx="824.5" cy="689.2" r="12.9" fill="none" stroke="#1a1a1a" stroke-width="1.05"/><circle cx="582.1" cy="689.2" r="12.9" fill="none" stroke="#1a1a1a" stroke-width="1.05"/><circle cx="703.3" cy="568" r="93.5" fill="none" stroke="#222" stroke-width="0.9"/><path d="M659.52 474.11 A103.6 103.6 0 0 1 747.08 474.11 L743.58 481.63 A95.3 95.3 0 0 0 663.02 481.63Z" fill="none" stroke="#333" stroke-width="0.8"/><path d="M643.88 652.86 A103.6 103.6 0 0 1 600.09 577.03 L608.36 576.31 A95.3 95.3 0 0 0 648.64 646.07Z" fill="none" stroke="#333" stroke-width="0.8"/><path d="M806.9 568 A103.6 103.6 0 0 1 762.72 652.86 L757.96 646.07 A95.3 95.3 0 0 0 798.6 568Z" fill="none" stroke="#333" stroke-width="0.8"/><g fill="none" stroke="#1a1a1a" stroke-width="1.1"><circle cx="703.3" cy="568" r="59.3"/><circle cx="703.3" cy="568" r="56"/><circle cx="703.3" cy="568" r="45.3"/></g><path d="M645.95 501V357H673.7" fill="none" stroke="#fff" stroke-width="8"/><path d="M645.95 501V357H673.7" fill="none" stroke="#808080" stroke-width="2"/><circle cx="646.5" cy="511.4" r="5.3" fill="#96d70a" stroke="#2a3a10" stroke-width="0.9"/><circle cx="759.7" cy="511.4" r="5.3" fill="#96d70a" stroke="#2a3a10" stroke-width="0.9"/><path d="M578 571.2H505.5M512.7 563.6L505 571.2L512.7 578.8" fill="none" stroke="#0079ff" stroke-width="4.2" stroke-linecap="round" stroke-linejoin="round"/><g style="will-change:transform"><text x="409.2" y="367" font-size="28" letter-spacing="0.3" fill="#000">Caurumi</text><text x="681.8" y="367" font-size="28" fill="#000">Tapas</text></g></svg></body></html>
